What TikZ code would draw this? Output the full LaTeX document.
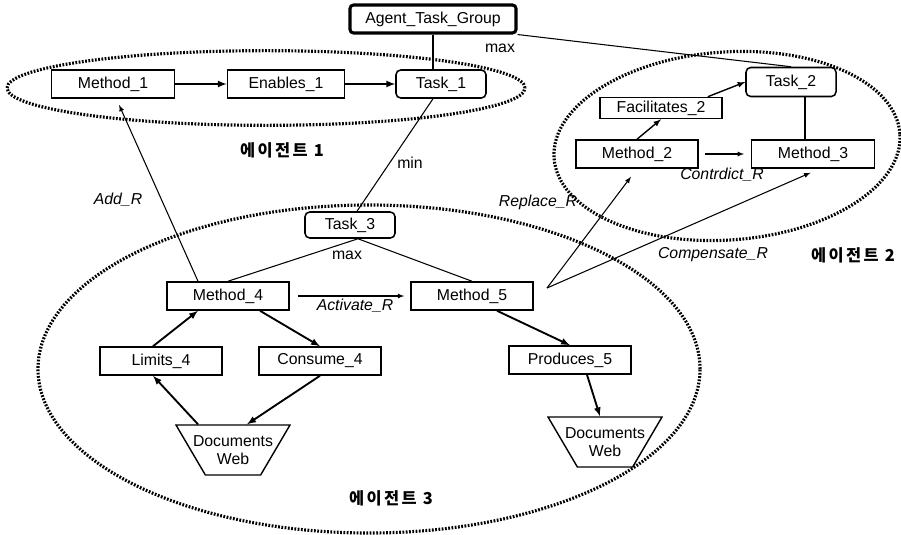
\documentclass[tikz,border=0pt]{standalone}
\usepackage{fontspec}
\setmainfont{Liberation Sans}
\newfontfamily\kor{Noto Sans CJK KR}[LetterSpace=15]
\usepackage{tikz}
\usetikzlibrary{shapes, arrows, positioning}
\tikzstyle{box}=[draw, rectangle, line width=1.3pt, minimum width=3.66cm, minimum height=0.84cm, inner sep=1pt]
\tikzstyle{task}=[box, rounded corners=4pt, minimum width=2.7cm]
\tikzstyle{docs}=[draw, trapezium, trapezium angle=62, trapezium stretches=true, shape border rotate=180, minimum width=3.42cm, minimum height=1.5cm, line width=1.2pt]
\tikzstyle{zone}=[draw, line width=2.7pt, dash pattern=on 1.5pt off 1.3pt]
\tikzstyle{mainedge}=[-latex, line width=1.6pt]
\tikzstyle{relation}=[-latex, line width=0.9pt]
\tikzstyle{link}=[line width=0.9pt]
\tikzstyle{rname}=[font=\fontsize{13.5}{15}\selectfont\itshape]
\tikzstyle{agentname}=[font=\fontsize{14}{16}\selectfont\kor\bfseries]

\begin{document}
\begin{tikzpicture}[x=0.03cm, y=-0.03cm, font=\fontsize{13.5}{15}\selectfont]
\useasboundingbox (0,0) rectangle (901,535);
% agent zones
\draw[zone] (266,88) ellipse [x radius=7.77cm, y radius=1.12cm];
\draw[zone, rotate around={4:(727,146)}] (727,146) ellipse [x radius=5.2cm, y radius=2.82cm];
\draw[zone] (369,369) ellipse [x radius=9.93cm, y radius=4.92cm];
% top
\node[box, line width=2.6pt, rounded corners=3pt, minimum width=4.98cm] (agent_group) at (433,19) {Agent\_Task\_Group};
% agent 1
\node[box, minimum width=3.69cm] (method_1)  at (113,84) {Method\_1};
\node[box, minimum width=3.51cm] (enables_1) at (286,84) {Enables\_1};
\node[task]                      (task_1)    at (441,84) {Task\_1};
% agent 2
\node[task, minimum height=0.87cm] (task_2)        at (791,82)  {Task\_2};
\node[box, minimum height=0.63cm]  (facilitates_2) at (661,108) {Facilitates\_2};
\node[box]                         (method_2)      at (637,154) {Method\_2};
\node[box, minimum width=3.69cm]   (method_3)      at (813,154) {Method\_3};
% agent 3
\node[task, minimum height=0.78cm] (task_3)     at (350,225) {Task\_3};
\node[box]                         (method_4)   at (228,296) {Method\_4};
\node[box]                         (method_5)   at (472,296) {Method\_5};
\node[box]                         (limits_4)   at (161,361) {Limits\_4};
\node[box]                         (consume_4)  at (320,361) {Consume\_4};
\node[box]                         (produces_5) at (570,360) {Produces\_5};
\node[docs, label={[align=center]center:Documents\\Web}] (docs_4) at (233,450) {};
\node[docs, label={[align=center]center:Documents\\Web}] (docs_5) at (605,442) {};
\coordinate (fork_5) at (547,288);
% edges
\draw[link] (agent_group.south) -- (agent_group.south |- task_1.north);
\draw[link] (agent_group.south east) -- (task_2.north);
\draw[mainedge] (method_1) -- (enables_1);
\draw[mainedge] (enables_1) -- (task_1);
\draw[link] ([xshift=-0.24cm]task_1.south) -- ([xshift=0.21cm]task_3.north);
\draw[mainedge, line width=1.2pt] (method_2.north) -- (facilitates_2.south);
\draw[mainedge, line width=1.2pt] ([xshift=-0.45cm]facilitates_2.north east) -- (task_2.west);
\draw[relation, shorten <=0.2cm, shorten >=0.2cm] (method_2) -- (method_3);
\draw[link] ([xshift=0.42cm]task_2.south) -- ([xshift=0.42cm]task_2.south |- method_3.north);
\draw[link] ([xshift=0.24cm]task_3.south) -- (method_4.north);
\draw[link] ([xshift=0.24cm]task_3.south) -- (method_5.north);
\draw[relation, shorten <=0.24cm, shorten >=0.18cm] (method_4) -- (method_5);
\draw[relation, shorten >=0.2cm] ([xshift=-0.9cm]method_4.north) -- ([xshift=0.1cm]method_1.south);
\draw[mainedge] ([xshift=-0.24cm]limits_4.north) -- ([xshift=-0.9cm]method_4.south);
\draw[mainedge] ([xshift=0.96cm]method_4.south) -- (consume_4.north);
\draw[mainedge] (consume_4.south) -- ([xshift=0.42cm]docs_4.north);
\draw[mainedge] ([xshift=-1.05cm]docs_4.north) -- ([xshift=-0.24cm]limits_4.south);
\draw[mainedge] ([xshift=0.75cm]method_5.south) -- (produces_5.north);
\draw[mainedge] ([xshift=0.51cm]produces_5.south) -- ([xshift=-0.15cm]docs_5.north);
\draw[relation, shorten >=0.3cm] (fork_5) -- (method_2.south);
\draw[relation, shorten >=0.3cm] (fork_5) -- ([xshift=0.2cm]method_3.south);
% labels
\node              (max_1)        at (500,48)  {max};
\node              (min_1)        at (410,163) {min};
\node[agentname]   (agent_1)      at (282,150) {에이전트 1};
\node[rname]       (add_r)        at (118,200) {Add\_R};
\node[rname]       (replace_r)    at (538,202) {Replace\_R};
\node[rname]       (contrdict_r)  at (722,175) {Contrdict\_R};
\node[rname]       (compensate_r) at (713,255) {Compensate\_R};
\node[agentname]   (agent_2)      at (853,255) {에이전트 2};
\node              (max_3)        at (347,255) {max};
\node[rname]       (activate_r)   at (355,306) {Activate\_R};
\node[agentname]   (agent_3)      at (391,498) {에이전트 3};
\end{tikzpicture}
\end{document}
